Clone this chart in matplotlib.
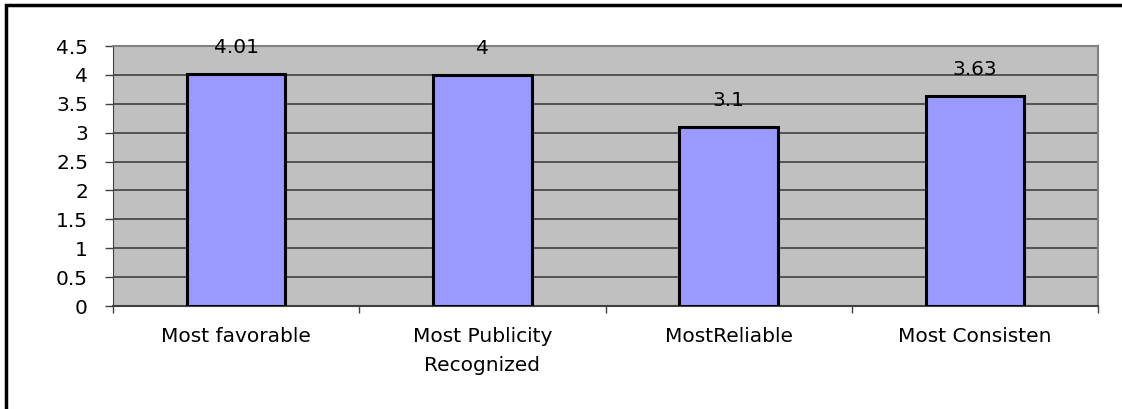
import numpy as np
import matplotlib.pyplot as plt
from matplotlib.patches import Rectangle

# data
categories = ['Most favorable', 'Most Publicity\nRecognized', 'MostReliable', 'Most Consisten']
values = [4.01, 4.0, 3.1, 3.63]
value_labels = ['4.01', '4', '3.1', '3.63']
y_ticks = [0, 0.5, 1, 1.5, 2, 2.5, 3, 3.5, 4, 4.5]
y_tick_labels = ['0', '0.5', '1', '1.5', '2', '2.5', '3', '3.5', '4', '4.5']

plt.rcParams['font.family'] = ['DejaVu Sans']
fs = 14.5

W, H = 1122, 409
fig = plt.figure(figsize=(W / 100, H / 100), dpi=100)

# outer frame (left + top visible)
fig.add_artist(Rectangle((6 / W, -0.1), 1.2, (H - 5) / H + 0.1, transform=fig.transFigure,
                         fill=False, edgecolor='black', linewidth=2.5))

left, right, top, bottom = 113, 1098, 46, 306
ax = fig.add_axes([left / W, 1 - bottom / H, (right - left) / W, (bottom - top) / H])
ax.set_facecolor('#C0C0C0')

x = np.arange(len(categories))
ax.bar(x, values, width=0.4, color='#9999FF', edgecolor='black', linewidth=2.2, zorder=3)

for xi, v, lab in zip(x, values, value_labels):
    ax.annotate(lab, (xi, v), xytext=(0, 19), textcoords='offset points',
                ha='center', va='center', fontsize=fs, zorder=4)

ax.set_xlim(-0.5, len(categories) - 0.5)
ax.set_ylim(0, 4.5)
ax.set_yticks(y_ticks)
ax.set_yticklabels(y_tick_labels, fontsize=fs)
ax.yaxis.grid(True, color='#404040', linewidth=1.2, zorder=0)
ax.set_axisbelow(True)

ax.set_xticks(x)
ax.set_xticklabels(categories, fontsize=fs, linespacing=1.7)
ax.set_xticks(np.arange(len(categories) + 1) - 0.5, minor=True)
ax.tick_params(axis='x', which='major', length=0, pad=15)
ax.tick_params(axis='x', which='minor', length=5, width=1, color='#404040')
ax.tick_params(axis='y', length=6, width=1, color='#404040', pad=12)

for side in ['top', 'right']:
    ax.spines[side].set_color('#808080')
    ax.spines[side].set_linewidth(1.5)
ax.spines['left'].set_color('#404040')
ax.spines['bottom'].set_color('#404040')
ax.spines['bottom'].set_linewidth(1.5)

plt.savefig('out.png', dpi=100)
